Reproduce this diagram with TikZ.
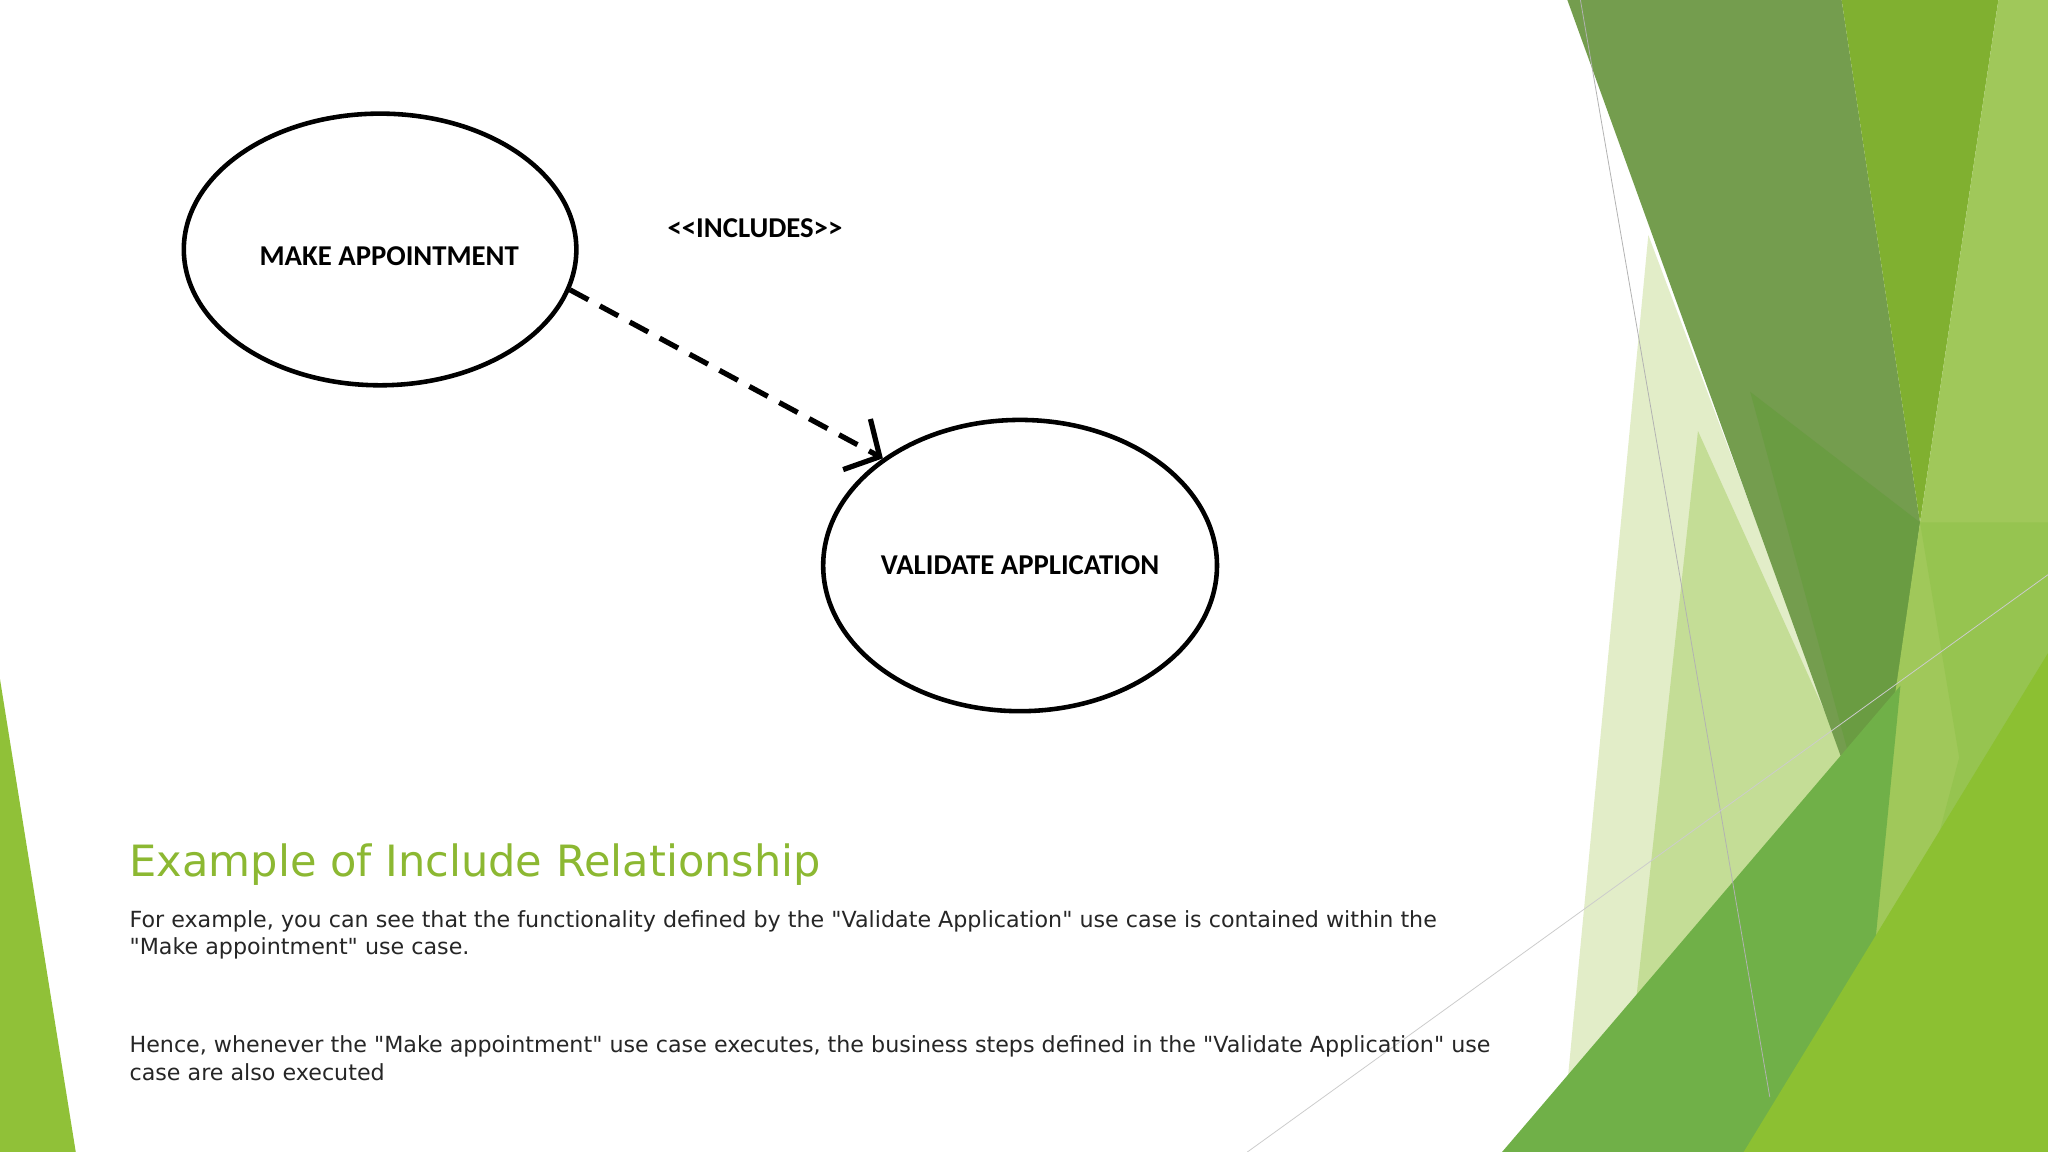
\documentclass[tikz,border=0pt]{standalone}
\usepackage{fontspec}
\setmainfont{DejaVu Sans}
\newfontfamily\calfont{Carlito}
\usetikzlibrary{arrows.meta,shapes.geometric}
\begin{document}
\begin{tikzpicture}[x=1pt,y=-1pt,
 uc/.style={draw=black,line width=3.5pt,ellipse,inner sep=0pt,font=\calfont\bfseries\fontsize{22}{24}\selectfont},
 body/.style={anchor=north west,align=left,font=\fontsize{17}{21}\selectfont,text=black!85}]
\useasboundingbox (0,0) rectangle (1568,882);
\fill[white] (0,0) rectangle (1568,882);
% decorative green shapes
\fill[color={rgb,255:red,144;green,193;blue,56}] (0,520) -- (58,882) -- (0,882) -- cycle;
\fill[color={rgb,255:red,226;green,237;blue,200}] (1262,180) -- (1420,600) -- (1300,882) -- (1195,882) -- cycle;
\fill[color={rgb,255:red,196;green,221;blue,150}] (1300,330) -- (1440,640) -- (1380,882) -- (1240,882) -- cycle;
\fill[color={rgb,255:red,116;green,157;blue,78}] (1200,0) -- (1410,0) -- (1470,400) -- (1435,650) -- cycle;
\fill[color={rgb,255:red,128;green,176;blue,48}] (1410,0) -- (1530,0) -- (1470,400) -- cycle;
\fill[color={rgb,255:red,106;green,156;blue,66}] (1340,300) -- (1470,400) -- (1435,650) -- cycle;
\fill[color={rgb,255:red,160;green,200;blue,90}] (1530,0) -- (1568,0) -- (1568,882) -- (1400,882) -- (1470,400) -- cycle;
\fill[color={rgb,255:red,150;green,196;blue,80}] (1470,400) -- (1568,400) -- (1568,882) -- (1420,882) -- (1500,580) -- cycle;
\fill[color={rgb,255:red,112;green,176;blue,72}] (1150,882) -- (1455,525) -- (1420,882) -- cycle;
\fill[color={rgb,255:red,140;green,192;blue,50}] (1335,882) -- (1568,500) -- (1568,882) -- cycle;
\draw[gray!60,line width=0.6pt] (1210,0) -- (1355,840);
\draw[gray!40,line width=0.6pt] (955,882) -- (1568,440);
% diagram
\node[uc,minimum width=280pt,minimum height=208pt,text depth=0pt] (ma) at (291,191) {\raisebox{-10pt}{\hspace{14pt}MAKE APPOINTMENT}};
\node[uc,minimum width=281pt,minimum height=223pt] (va) at (781,433) {\raisebox{-5pt}{VALIDATE APPLICATION}};
\draw[line width=4pt,dash pattern=on 16pt off 10pt,-{Straight Barb[length=20pt,width=44pt,line width=4pt]}] (ma.-12) -- (va.142);
\node[font=\calfont\bfseries\fontsize{22}{24}\selectfont] (lbl) at (578,175) {<{}<INCLUDES>{}>};
% text
\node[anchor=west,font=\fontsize{33}{36}\selectfont,text={rgb,255:red,140;green,184;blue,50},inner sep=0pt] (title) at (99,662) {Example of Include Relationship};
\node[body,inner sep=0pt] (p1) at (99,697) {For example, you can see that the functionality defined by the \textquotedbl Validate Application\textquotedbl\ use case is contained within the\\\textquotedbl Make appointment\textquotedbl\ use case.};
\node[body,inner sep=0pt] (p2) at (99,793) {Hence, whenever the \textquotedbl Make appointment\textquotedbl\ use case executes, the business steps defined in the \textquotedbl Validate Application\textquotedbl\ use\\case are also executed};
\end{tikzpicture}
\end{document}
